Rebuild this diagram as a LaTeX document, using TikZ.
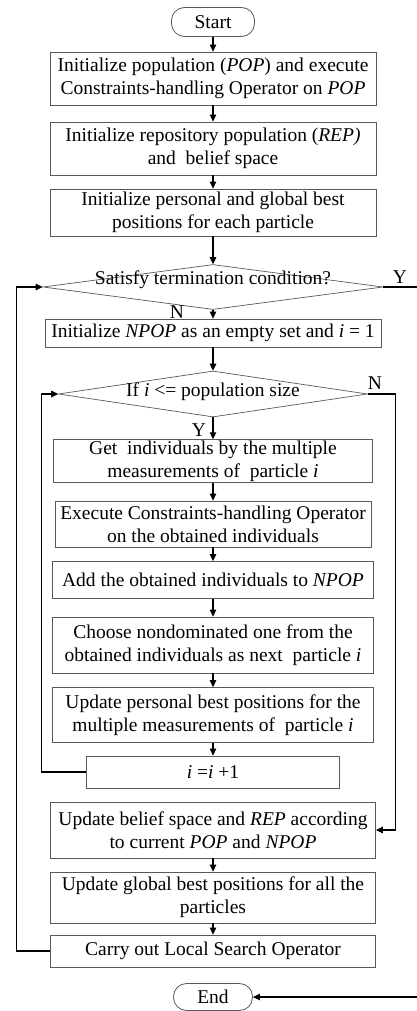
\documentclass[tikz,border=0pt]{standalone}
\usepackage{fontspec}
\setmainfont{Liberation Serif}
\usetikzlibrary{positioning, arrows.meta, shapes.geometric}
\tikzset{
  procbox/.style={draw=gray!70!black, line width=0.8pt, align=center, inner sep=1pt,
                  font=\fontsize{19.5}{23}\selectfont},
  termbox/.style={draw=gray!70!black, line width=0.8pt, rounded corners=13pt, inner sep=1pt,
                  font=\fontsize{19.5}{23}\selectfont},
  decbox/.style={diamond, draw=gray!70!black, line width=0.7pt, inner sep=0pt},
  lbl/.style={font=\fontsize{19.5}{23}\selectfont, inner sep=0pt},
  wire/.style={-{Triangle[length=7pt, width=6.5pt]}, line width=1.2pt},
  flow/.style={line width=1.2pt}
}

\begin{document}
\begin{tikzpicture}[x=1pt, y=-1pt]
        \useasboundingbox (0,0) rectangle (417,1011);
        \node[termbox, minimum width=83pt, minimum height=29pt] (start) at (213, 22) {Start};
        \node[procbox, minimum width=326pt, minimum height=53pt] (initpop) at (213, 78.5)
             {Initialize population (\textit{POP}) and execute\\Constraints-handling Operator on \textit{POP}};
        \node[procbox, minimum width=326pt, minimum height=53pt] (initrep) at (213, 148.5)
             {Initialize repository population (\textit{REP)}\\and\ \ belief space};
        \node[procbox, minimum width=326pt, minimum height=47pt] (initbest) at (213, 212.5)
             {Initialize personal and global best\\positions for each particle};
        \node[decbox, minimum width=340pt, minimum height=45pt] (term) at (213, 287) {};
        \node[lbl] (termtxt) at (213, 280) {Satisfy termination condition?};
        \node[procbox, minimum width=336pt, minimum height=28pt] (initnpop) at (213, 333)
             {Initialize \textit{NPOP} as an empty set and \textit{i} = 1};
        \node[decbox, minimum width=309pt, minimum height=46pt] (popsize) at (213, 394) {};
        \node[lbl] (popsizetxt) at (213, 392) {If \textit{i} <= population size};
        \node[procbox, minimum width=319pt, minimum height=38pt] (getind) at (213, 461)
             {Get\ \ individuals by the multiple\\measurements of\ \ particle \textit{i}};
        \node[procbox, minimum width=316pt, minimum height=46pt] (execch) at (213, 524)
             {Execute Constraints-handling Operator\\on the obtained individuals};
        \node[procbox, minimum width=321pt, minimum height=37pt] (addnpop) at (213, 580)
             {Add the obtained individuals to \textit{NPOP}};
        \node[procbox, minimum width=321pt, minimum height=56pt] (choose) at (213, 645)
             {Choose nondominated one from the\\obtained individuals as next\ \ particle \textit{i}};
        \node[procbox, minimum width=321pt, minimum height=55pt] (updpbest) at (213, 715)
             {Update personal best positions for the\\multiple measurements of\ \ particle \textit{i}};
        \node[procbox, minimum width=253pt, minimum height=32pt] (incr) at (213, 772)
             {\textit{i} =\textit{i} +1};
        \node[procbox, minimum width=325pt, minimum height=56pt] (updbelief) at (213, 830)
             {Update belief space and \textit{REP} according\\to current \textit{POP} and \textit{NPOP}};
        \node[procbox, minimum width=325pt, minimum height=51pt] (updgbest) at (213, 897.5)
             {Update global best positions for all the\\particles};
        \node[procbox, minimum width=325pt, minimum height=32pt] (localsearch) at (213, 951)
             {Carry out Local Search Operator};
        \node[termbox, minimum width=79pt, minimum height=27pt] (stop) at (213, 997) {End};
        % main column
        \draw[wire] (start) -- (initpop);
        \draw[wire] (initpop) -- (initrep);
        \draw[wire] (initrep) -- (initbest);
        \draw[wire] (initbest.south) -- (initbest.south |- term.north);
        \draw[wire] (term.south) -- (term.south |- initnpop.north);
        \draw[wire] (initnpop.south) -- (initnpop.south |- popsize.north);
        \draw[wire] (popsize.south) -- (popsize.south |- getind.north);
        \draw[wire] (getind) -- (execch);
        \draw[wire] (execch) -- (addnpop);
        \draw[wire] (addnpop) -- (choose);
        \draw[wire] (choose) -- (updpbest);
        \draw[wire] (updpbest) -- (incr);
        \draw[wire] (updbelief) -- (updgbest);
        \draw[wire] (updgbest) -- (localsearch);
        % loops
        \draw[wire] (incr.west) -- ++(-45,0) |- (popsize.west);
        \draw[wire] (localsearch.west) -- ++(-34,0) |- (term.west);
        \draw[wire] (popsize.east) -- ++(28,0) |- (updbelief.east);
        \draw[wire] (term.east) -- ++(40,0) |- (stop.east);
        % branch labels
        \node[lbl] (ylabel1) at (400, 277) {Y};
        \node[lbl] (nlabel1) at (177, 312) {N};
        \node[lbl] (nlabel2) at (375, 383) {N};
        \node[lbl] (ylabel2) at (199, 430) {Y};
      \end{tikzpicture}
\end{document}
